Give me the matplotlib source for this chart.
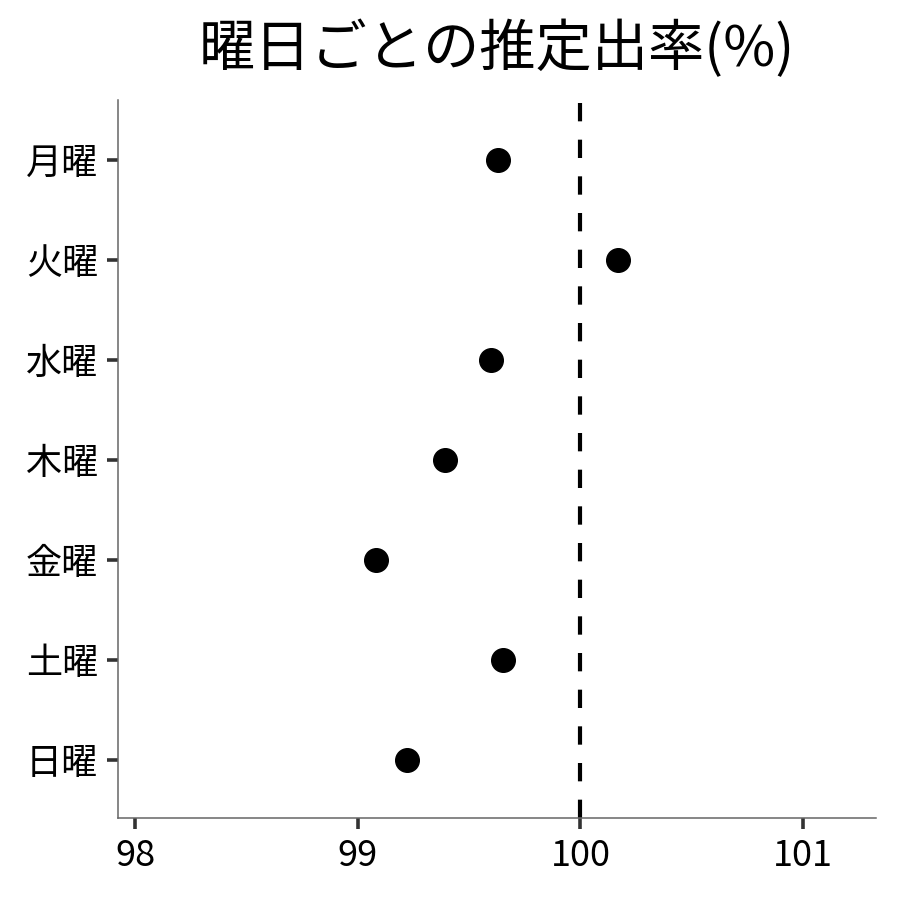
import matplotlib
matplotlib.use("Agg")
import matplotlib.pyplot as plt

plt.rcParams['font.family'] = ['Noto Sans CJK JP', 'DejaVu Sans']

days = ["月曜", "火曜", "水曜", "木曜", "金曜", "土曜", "日曜"]
rates = [99.63, 100.17, 99.60, 99.39, 99.08, 99.65, 99.22]
x_ticks = [98, 99, 100, 101]
ref_value = 100

fig = plt.figure(figsize=(9, 9), dpi=100)
ax = fig.add_axes([0.1308, 0.091, 0.8425, 0.798])

ypos = list(range(len(days)))
ax.plot(rates, ypos, "o", color="black", markersize=17, zorder=3)
ax.axvline(ref_value, color="black", linewidth=3, linestyle=(0, (4.4, 4.4)))

ax.set_yticks(ypos)
ax.set_yticklabels(days)
ax.set_ylim(len(days) - 1 + 0.58, -0.6)
ax.set_xticks(x_ticks)
ax.set_xlim(97.922, 101.327)

for side in ["top", "right"]:
    ax.spines[side].set_visible(False)
for side in ["left", "bottom"]:
    ax.spines[side].set_color("#666666")
    ax.spines[side].set_linewidth(1.1)

ax.tick_params(axis="both", length=8, width=2.6, color="#333333",
               labelsize=26, labelcolor="black", pad=6)

ax.set_title("曜日ごとの推定出率(%)", fontsize=40.5, pad=24)

fig.savefig("out.png", dpi=100)
